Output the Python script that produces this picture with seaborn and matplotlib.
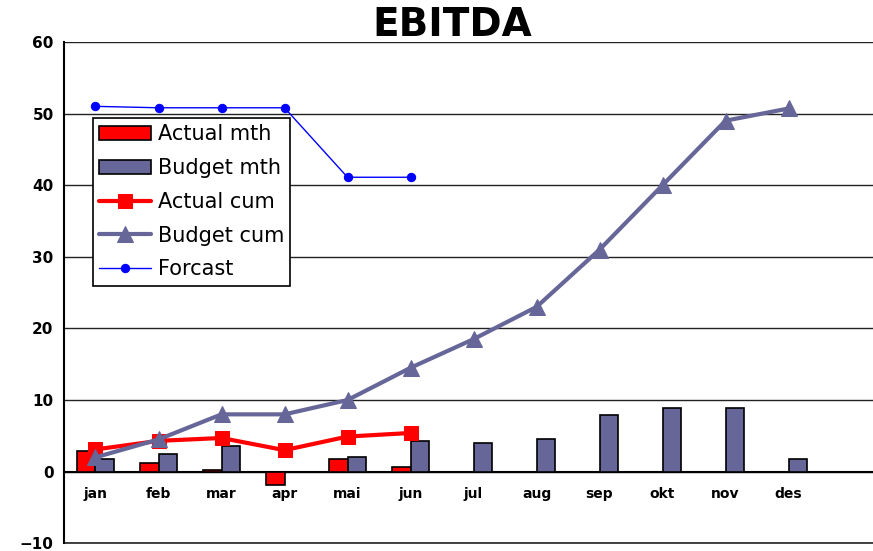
import pandas as pd
import numpy as np
import matplotlib
matplotlib.use('Agg')
import matplotlib.pyplot as plt
import seaborn as sns

months = ['jan', 'feb', 'mar', 'apr', 'mai', 'jun', 'jul', 'aug', 'sep', 'okt', 'nov', 'des']
actual_mth = [2.9, 1.2, 0.2, -1.9, 1.8, 0.6]
budget_mth = [1.8, 2.4, 3.6, 0.0, 2.0, 4.3, 4.0, 4.55, 7.95, 8.9, 8.9, 1.8]
actual_cum = [3.1, 4.3, 4.7, 3.0, 4.9, 5.4]
budget_cum = [2.0, 4.5, 8.0, 8.0, 10.0, 14.5, 18.5, 23.0, 31.0, 40.0, 49.0, 50.7]
forcast = [51.0, 50.8, 50.8, 50.8, 41.1, 41.1]

sns.set_style('white')
plt.rcParams['font.family'] = ['DejaVu Sans']
plt.rcParams['text.color'] = 'black'
plt.rcParams['xtick.color'] = 'black'
plt.rcParams['ytick.color'] = 'black'

bars = pd.concat([
    pd.DataFrame({'month': months[:len(actual_mth)], 'value': actual_mth, 'series': 'Actual mth'}),
    pd.DataFrame({'month': months, 'value': budget_mth, 'series': 'Budget mth'}),
])

fig = plt.figure(figsize=(8.73, 5.51), dpi=100)
ax = fig.add_axes([0.0733, 0.014, 0.9267, 0.910])

sns.barplot(data=bars, x='month', y='value', hue='series', order=months,
            hue_order=['Actual mth', 'Budget mth'], palette=['#FF0000', '#666699'],
            saturation=1, width=0.6, edgecolor='black', linewidth=1.2, ax=ax, zorder=3)

sns.lineplot(x=np.arange(len(actual_cum)), y=actual_cum, color='#FF0000', lw=3,
             marker='s', markersize=10, markeredgecolor='#FF0000', label='Actual cum', ax=ax, zorder=4)
sns.lineplot(x=np.arange(len(budget_cum)), y=budget_cum, color='#666699', lw=3,
             marker='^', markersize=12, markeredgecolor='#666699', label='Budget cum', ax=ax, zorder=4)
sns.lineplot(x=np.arange(len(forcast)), y=forcast, color='#0000FF', lw=1,
             marker='o', markersize=6, markeredgecolor='#0000FF', label='Forcast', ax=ax, zorder=4)

ax.set_ylim(-10, 60)
ax.set_xlim(-0.5, 12.34)
ax.set_yticks(range(-10, 61, 10))
ax.yaxis.grid(True, color='#222222', lw=1)
ax.axhline(-10, color='#222222', lw=1.2, clip_on=False)
ax.set_axisbelow(True)
ax.set_xlabel('')
ax.set_ylabel('')

ax.spines['bottom'].set_position(('data', 0))
ax.spines['bottom'].set_linewidth(1.5)
ax.spines['bottom'].set_color('black')
ax.spines['left'].set_linewidth(1.5)
ax.spines['left'].set_color('black')
ax.spines['right'].set_visible(False)
ax.spines['top'].set_visible(False)

ax.set_xticks(range(len(months)))
ax.set_xticklabels(months, fontweight='bold', fontsize=10)
ax.set_xticks(np.arange(0.5, 12.5, 1), minor=True)
ax.tick_params(axis='x', which='major', length=0, pad=11)
ax.tick_params(axis='x', which='minor', length=5, width=1.2, direction='out')
ax.tick_params(axis='y', length=4, width=1.2, direction='out', labelsize=11)
for t in ax.get_yticklabels():
    t.set_fontweight('bold')

fig.text(452 / 873, 1 - 25 / 551, 'EBITDA', fontsize=28, fontweight='bold',
         ha='center', va='center')

handles, labels = ax.get_legend_handles_labels()
order = ['Actual mth', 'Budget mth', 'Actual cum', 'Budget cum', 'Forcast']
hmap = dict(zip(labels, handles))
leg = ax.legend([hmap[k] for k in order], order, loc='upper left',
                bbox_to_anchor=(0.036, 0.848), fontsize=15, frameon=True,
                fancybox=False, edgecolor='black', framealpha=1,
                handlelength=2.5, borderpad=0.3, labelspacing=0.66, handletextpad=0.3,
                borderaxespad=0)
leg.get_frame().set_linewidth(1.2)

fig.savefig('out.png', dpi=100)
